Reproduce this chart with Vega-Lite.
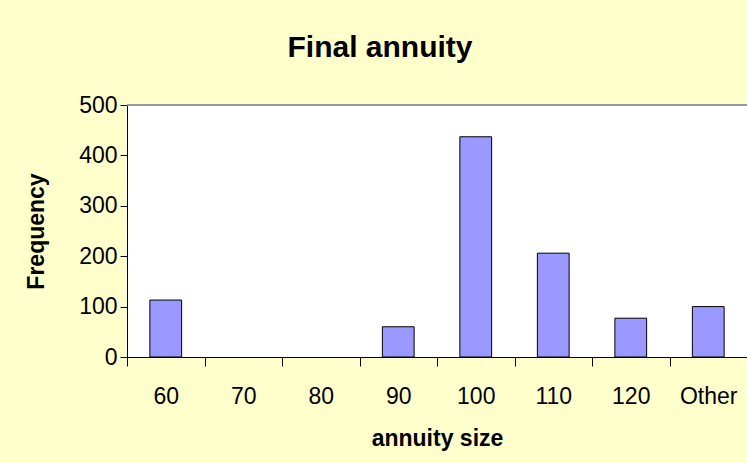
{
  "$schema": "https://vega.github.io/schema/vega-lite/v6.json",
  "autosize": "none",
  "width": 620,
  "height": 252,
  "padding": {"left": 127, "top": 105, "right": 0, "bottom": 106},
  "background": "#FFFFCC",
  "title": {
    "text": "Final annuity",
    "font": "Liberation Sans",
    "fontSize": 30,
    "fontWeight": "bold",
    "color": "black",
    "anchor": "middle",
    "dx": -57,
    "offset": 31
  },
  "config": {
    "view": {"fill": "white", "stroke": null},
    "font": "Liberation Sans"
  },
  "data": {
    "values": [
      {"size": "60", "freq": 113},
      {"size": "70", "freq": null},
      {"size": "80", "freq": null},
      {"size": "90", "freq": 60},
      {"size": "100", "freq": 437},
      {"size": "110", "freq": 206},
      {"size": "120", "freq": 77},
      {"size": "Other", "freq": 100}
    ]
  },
  "layer": [
    {
      "mark": {"type": "rule", "color": "#999999", "strokeWidth": 1},
      "encoding": {"y": {"datum": 500, "type": "quantitative"}}
    },
    {
      "mark": {"type": "bar", "fill": "#9999FF", "stroke": "black", "strokeWidth": 1, "width": {"band": 0.41}},
      "encoding": {
        "x": {
          "field": "size",
          "type": "nominal",
          "sort": null,
          "scale": {"domain": ["60", "70", "80", "90", "100", "110", "120", "Other"], "paddingInner": 0, "paddingOuter": 0},
          "axis": {
            "title": "annuity size",
            "titleFont": "Liberation Sans",
            "titleFontSize": 23,
            "titleFontWeight": "bold",
            "titleColor": "black",
            "titlePadding": 19,
            "labelAngle": 0,
            "labelFont": "Liberation Sans",
            "labelFontSize": 23,
            "labelColor": "black",
            "labelPadding": 19,
            "tickBand": "extent",
            "tickSize": 9,
            "tickColor": "black",
            "domainColor": "black",
            "grid": false
          }
        },
        "y": {
          "field": "freq",
          "type": "quantitative",
          "scale": {"domain": [0, 500], "nice": false},
          "axis": {
            "title": "Frequency",
            "titleFont": "Liberation Sans",
            "titleFontSize": 23,
            "titleFontWeight": "bold",
            "titleColor": "black",
            "titlePadding": 30,
            "values": [0, 100, 200, 300, 400, 500],
            "labelFont": "Liberation Sans",
            "labelFontSize": 23,
            "labelColor": "black",
            "labelPadding": 3,
            "tickSize": 7,
            "tickColor": "black",
            "domainColor": "black",
            "grid": false
          }
        }
      }
    }
  ]
}
